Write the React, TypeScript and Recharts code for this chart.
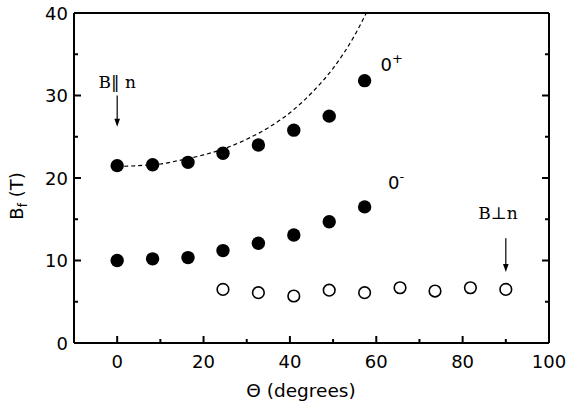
import { ComposedChart, XAxis, YAxis, Scatter, Line, ReferenceLine, ReferenceDot } from 'recharts';

// angle of B relative to the normal n (degrees)
const thetaFilled = [0, 8.2, 16.4, 24.5, 32.7, 40.9, 49.1, 57.3];
const bPlus = [21.5, 21.6, 21.9, 23.0, 24.0, 25.8, 27.5, 31.8];
const bMinus = [10.0, 10.2, 10.35, 11.2, 12.1, 13.1, 14.7, 16.5];

const thetaOpen = [24.5, 32.7, 40.9, 49.1, 57.3, 65.5, 73.6, 81.8, 90];
const bPerp = [6.5, 6.1, 5.7, 6.4, 6.1, 6.7, 6.3, 6.7, 6.5];

// dashed guide through the 0+ branch
const thetaFit = [0, 5, 10, 15, 20, 25, 30, 35, 40, 45, 50, 55, 57.7];
const bFit = [21.4, 21.5, 21.7, 22.2, 22.8, 23.6, 24.7, 26.1, 27.9, 30.3, 33.3, 37.3, 40.0];

const xTicks = [-10, 0, 10, 20, 30, 40, 50, 60, 70, 80, 90, 100];
const yTicks = [0, 5, 10, 15, 20, 25, 30, 35, 40];

const toPoints = (xs: number[], ys: number[]) => xs.map((x, i) => ({ x, y: ys[i] }));

const plusData = toPoints(thetaFilled, bPlus);
const minusData = toPoints(thetaFilled, bMinus);
const perpData = toPoints(thetaOpen, bPerp);
const fitData = toPoints(thetaFit, bFit);

const SANS = 'DejaVu Sans';
const SERIF = 'DejaVu Serif';
const axisStyle = { stroke: '#000', strokeWidth: 2 };

const BottomTick = ({ x, y, payload }: any) => {
  const major = payload.value % 20 === 0;
  return (
    <g>
      <line x1={x} x2={x} y1={y} y2={y - (major ? 7 : 4)} stroke="#000" strokeWidth={2} />
      {major && (
        <text x={x} y={y + 25} textAnchor="middle" fontFamily={SANS} fontSize={18} fill="#000">
          {payload.value}
        </text>
      )}
    </g>
  );
};

const TopTick = ({ x, y, payload }: any) => {
  const major = payload.value % 20 === 0;
  return <line x1={x} x2={x} y1={y} y2={y + (major ? 7 : 4)} stroke="#000" strokeWidth={2} />;
};

const LeftTick = ({ x, y, payload }: any) => {
  const major = payload.value % 10 === 0;
  return (
    <g>
      <line x1={x} x2={x + (major ? 7 : 4)} y1={y} y2={y} stroke="#000" strokeWidth={2} />
      {major && (
        <text x={x - 6} y={y + 6.5} textAnchor="end" fontFamily={SANS} fontSize={18} fill="#000">
          {payload.value}
        </text>
      )}
    </g>
  );
};

const RightTick = ({ x, y, payload }: any) => {
  const major = payload.value % 10 === 0;
  return <line x1={x} x2={x - (major ? 7 : 4)} y1={y} y2={y} stroke="#000" strokeWidth={2} />;
};

const FilledDot = ({ cx, cy }: any) => <circle cx={cx} cy={cy} r={6.7} fill="#000" />;
const OpenDot = ({ cx, cy }: any) => (
  <circle cx={cx} cy={cy} r={5.8} fill="#fff" stroke="#000" strokeWidth={1.6} />
);

// vertical arrow pointing down
const Arrow = ({ x1, y1, x2, y2 }: any) => {
  const tipY = Math.max(y1, y2);
  const tailY = Math.min(y1, y2);
  return (
    <g>
      <line x1={x1} x2={x2} y1={tailY} y2={tipY - 6} stroke="#000" strokeWidth={1.2} />
      <polygon points={`${x1 - 2.8},${tipY - 8} ${x1 + 2.8},${tipY - 8} ${x1},${tipY}`} fill="#000" />
    </g>
  );
};

const annot = (content: (cx: number, cy: number) => any) => (p: any) => content(p.cx, p.cy);

export default function App() {
  return (
    <div style={{ position: 'absolute', left: 0, top: 0, background: '#fff' }}>
      <ComposedChart width={568} height={408} margin={{ top: 12, right: 18, bottom: 64, left: 73 }}>
        <XAxis
          type="number"
          dataKey="x"
          domain={[-10, 100]}
          ticks={xTicks}
          interval={0}
          height={1}
          tickSize={0}
          tickMargin={0}
          tickLine={false}
          axisLine={axisStyle}
          tick={<BottomTick />}
          allowDataOverflow
          label={{
            content: () => (
              <text x={301} y={397} textAnchor="middle" fontFamily={SANS} fontSize={18.5} fill="#000">
                Θ (degrees)
              </text>
            ),
          }}
        />
        <XAxis
          xAxisId="top"
          orientation="top"
          type="number"
          domain={[-10, 100]}
          ticks={xTicks}
          interval={0}
          height={1}
          tickSize={0}
          tickMargin={0}
          tickLine={false}
          axisLine={axisStyle}
          tick={<TopTick />}
          allowDataOverflow
        />
        <YAxis
          type="number"
          dataKey="y"
          domain={[0, 40]}
          ticks={yTicks}
          interval={0}
          width={1}
          tickSize={0}
          tickMargin={0}
          tickLine={false}
          axisLine={axisStyle}
          tick={<LeftTick />}
          allowDataOverflow
          label={{
            content: () => (
              <text
                transform="translate(23,196) rotate(-90)"
                textAnchor="middle"
                fontFamily={SANS}
                fontSize={18}
                fill="#000"
              >
                B
                <tspan fontSize={12} dy={4}>f</tspan>
                <tspan dy={-4}> (T)</tspan>
              </text>
            ),
          }}
        />
        <YAxis
          yAxisId="right"
          orientation="right"
          type="number"
          domain={[0, 40]}
          ticks={yTicks}
          interval={0}
          width={1}
          tickSize={0}
          tickMargin={0}
          tickLine={false}
          axisLine={axisStyle}
          tick={<RightTick />}
          allowDataOverflow
        />

        <Line
          data={fitData}
          dataKey="y"
          type="monotone"
          stroke="#000"
          strokeWidth={1.2}
          strokeDasharray="4 3"
          dot={false}
          activeDot={false}
          isAnimationActive={false}
        />
        <Scatter data={plusData} shape={<FilledDot />} isAnimationActive={false} />
        <Scatter data={minusData} shape={<FilledDot />} isAnimationActive={false} />
        <Scatter data={perpData} shape={<OpenDot />} isAnimationActive={false} />

        <ReferenceLine segment={[{ x: 0, y: 30.0 }, { x: 0, y: 26.2 }]} shape={<Arrow />} />
        <ReferenceLine segment={[{ x: 90, y: 12.7 }, { x: 90, y: 8.6 }]} shape={<Arrow />} />

        <ReferenceDot
          x={0}
          y={31.6}
          shape={annot((cx, cy) => (
            <text x={cx} y={cy + 6} textAnchor="middle" fontFamily={SERIF} fontSize={17} fill="#000">
              B‖ n
            </text>
          ))}
        />
        <ReferenceDot
          x={88.2}
          y={15.8}
          shape={annot((cx, cy) => (
            <text x={cx} y={cy + 6} textAnchor="middle" fontFamily={SERIF} fontSize={17} fill="#000">
              B⊥n
            </text>
          ))}
        />
        <ReferenceDot
          x={61.0}
          y={33.7}
          shape={annot((cx, cy) => (
            <text x={cx} y={cy + 6.5} fontFamily={SANS} fontSize={18} fill="#000">
              0<tspan fontSize={13} dy={-8}>+</tspan>
            </text>
          ))}
        />
        <ReferenceDot
          x={62.7}
          y={19.4}
          shape={annot((cx, cy) => (
            <text x={cx} y={cy + 6.5} fontFamily={SANS} fontSize={18} fill="#000">
              0<tspan fontSize={13} dy={-8}>-</tspan>
            </text>
          ))}
        />
      </ComposedChart>
    </div>
  );
}
